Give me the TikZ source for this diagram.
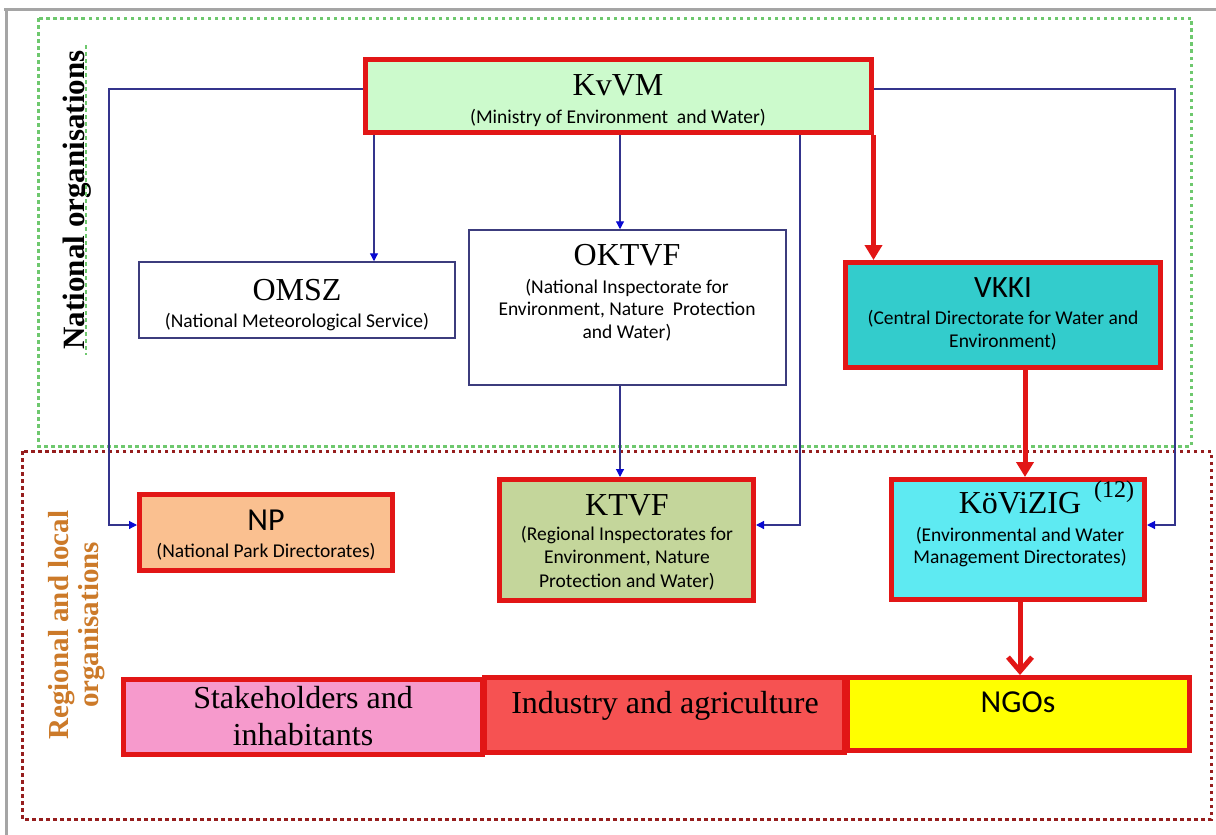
\documentclass[tikz,border=0pt]{standalone}
\usepackage{fontspec}
\setmainfont{Liberation Serif}
\newfontfamily\calfont{Carlito}
\usetikzlibrary{arrows.meta}
\definecolor{bred}{RGB}{226,22,22}
\definecolor{navyline}{RGB}{52,52,140}
\definecolor{arrowblue}{RGB}{10,10,210}
\definecolor{boxnavy}{RGB}{60,60,125}
\definecolor{kvvmfill}{RGB}{204,250,204}
\definecolor{vkkifill}{RGB}{51,204,204}
\definecolor{kovfill}{RGB}{94,234,242}
\definecolor{npfill}{RGB}{250,192,144}
\definecolor{ktvffill}{RGB}{196,214,155}
\definecolor{stakefill}{RGB}{246,154,204}
\definecolor{indfill}{RGB}{246,82,82}
\definecolor{ngofill}{RGB}{255,255,0}
\definecolor{greendot}{RGB}{110,200,110}
\definecolor{reddot}{RGB}{150,30,30}
\definecolor{regorange}{RGB}{204,122,41}
\definecolor{framegray}{RGB}{165,165,165}
\begin{document}
\begin{tikzpicture}[x=1pt,y=-1pt,
  redbox/.style={draw=bred, line width=5pt, inner sep=0pt, rectangle},
  thinbox/.style={draw=boxnavy, line width=1.5pt, fill=white, inner sep=0pt, rectangle},
  ttl/.style={anchor=base, inner sep=0pt, font=\fontsize{#1}{#1}\selectfont},
  sttl/.style={anchor=base, inner sep=0pt, font=\calfont\fontsize{#1}{#1}\selectfont},
  sub/.style={anchor=base, inner sep=0pt, align=center, font=\calfont\fontsize{19.5}{22.5}\selectfont},
  bconn/.style={draw=navyline, line width=1.2pt},
  barrow/.style={bconn, -{Triangle[length=8pt,width=8pt,color=arrowblue]}},
  rarrow/.style={draw=bred, line width=5pt, -{Triangle[length=15pt,width=17pt]}},
  rarrowopen/.style={draw=bred, line width=5pt, -{Straight Barb[length=14pt,width=24pt,line width=5pt]}},
  greenframe/.style={draw=greendot, line width=3pt, dash pattern=on 3.5pt off 3.5pt},
  redframe/.style={draw=reddot, line width=3pt, dash pattern=on 3.5pt off 3.5pt}
]
\useasboundingbox (0,0) rectangle (1216,835);
\fill[white] (0,0) rectangle (1216,835);
% outer gray frame (top and left)
\draw[framegray, line width=3pt] (4,9.5) -- (1216,9.5);
\draw[framegray, line width=3pt] (6.5,8) -- (6.5,835);
% group frames
\draw[greenframe] (38,18) rectangle (1191,446);
\draw[redframe] (22,451) rectangle (1211,819);

% side labels
\node[rotate=90, inner sep=0pt, font=\bfseries\fontsize{31}{31}\selectfont] (natlab) at (77,200) {National organisations};
\draw[greenframe, line width=2pt] (86,45) -- (86,355);
\node[rotate=90, inner sep=0pt, align=center, text=regorange, font=\bfseries\fontsize{29}{30}\selectfont] (reglab) at (77,625) {Regional and local\\organisations};

% boxes
\node[redbox, fill=kvvmfill, minimum width=506pt, minimum height=73pt] (KvVM) at (618.5,96) {};
\node[thinbox, minimum width=316pt, minimum height=76pt] (OMSZ) at (297,300) {};
\node[thinbox, minimum width=317pt, minimum height=155pt] (OKTVF) at (627.5,307.5) {};
\node[redbox, fill=vkkifill, minimum width=315pt, minimum height=105pt] (VKKI) at (1003,315) {};
\node[redbox, fill=npfill, minimum width=253pt, minimum height=76pt] (NP) at (266,532.5) {};
\node[redbox, fill=ktvffill, minimum width=254pt, minimum height=121pt] (KTVF) at (626.5,540) {};
\node[redbox, fill=kovfill, minimum width=253pt, minimum height=120pt] (KoV) at (1018,539.5) {};
\node[redbox, fill=stakefill, minimum width=359pt, minimum height=75pt] (STK) at (303,717) {};
\node[redbox, fill=indfill, minimum width=360pt, minimum height=75pt] (IND) at (664.5,715) {};
\node[redbox, fill=ngofill, minimum width=342pt, minimum height=73pt] (NGO) at (1018.5,714) {};

% texts (multi-line nodes are anchored at the baseline of their last line)
\node[ttl=32] (tKvVM) at (618,95) {KvVM};
\node[sub] (sKvVM) at (618,123) {(Ministry of Environment\ \ and Water)};
\node[ttl=32] (tOMSZ) at (297,300) {OMSZ};
\node[sub] (sOMSZ) at (297,327) {(National Meteorological Service)};
\node[ttl=32] (tOKTVF) at (627,265) {OKTVF};
\node[sub] (sOKTVF) at (627,338) {(National Inspectorate for\\Environment, Nature\ \ Protection\\and Water)};
\node[sttl=31] (tVKKI) at (1003,297) {VKKI};
\node[sub] (sVKKI) at (1003,347) {(Central Directorate for Water and\\Environment)};
\node[sttl=32] (tNP) at (266,530) {NP};
\node[sub] (sNP) at (266,557) {(National Park Directorates)};
\node[ttl=32] (tKTVF) at (627,515) {KTVF};
\node[sub, font=\calfont\fontsize{19.5}{23.5}\selectfont] (sKTVF) at (627,587) {(Regional Inspectorates for\\Environment, Nature\\Protection and Water)};
\node[ttl=32] (tKoV) at (1020,513) {KöViZIG};
\node[ttl=24] (tKoVn) at (1114,497) {(12)};
\node[sub, font=\calfont\fontsize{19.5}{21.5}\selectfont] (sKoV) at (1020,563) {(Environmental and Water\\Management Directorates)};
\node[anchor=base, inner sep=0pt, align=center, font=\fontsize{32}{37}\selectfont] (tSTK) at (303,745) {Stakeholders and\\inhabitants};
\node[ttl=32] (tIND) at (665,713) {Industry and agriculture};
\node[sttl=32] (tNGO) at (1018,712) {NGOs};

% coordinates for connectors
\coordinate (LB) at (109,89);
\coordinate (LBb) at (109,525);
\coordinate (XO) at (374,0);
\coordinate (XK) at (620,0);
\coordinate (MB) at (800,525);
\coordinate (XR) at (873.5,0);
\coordinate (RB) at (1175,89);
\coordinate (RBb) at (1175,525);
\coordinate (XV) at (1025,0);
\coordinate (XN) at (1020,0);

% blue connectors
\draw[barrow] (KvVM.west |- LB) -- (LB) -- (LBb) -- (NP.west |- LBb);
\draw[barrow] (KvVM.south -| XO) -- (OMSZ.north -| XO);
\draw[barrow] (KvVM.south -| XK) -- (OKTVF.north -| XK);
\draw[barrow] (OKTVF.south -| XK) -- (KTVF.north -| XK);
\draw[barrow] (KvVM.south -| MB) -- (MB) -- (KTVF.east |- MB);
\draw[barrow] (KvVM.east |- RB) -- (RB) -- (RBb) -- (KoV.east |- RBb);
% red connectors
\draw[rarrow] (KvVM.south -| XR) -- (VKKI.north -| XR);
\draw[rarrow] (VKKI.south -| XV) -- (KoV.north -| XV);
\draw[rarrowopen] (KoV.south -| XN) -- (NGO.north -| XN);
\end{tikzpicture}
\end{document}
